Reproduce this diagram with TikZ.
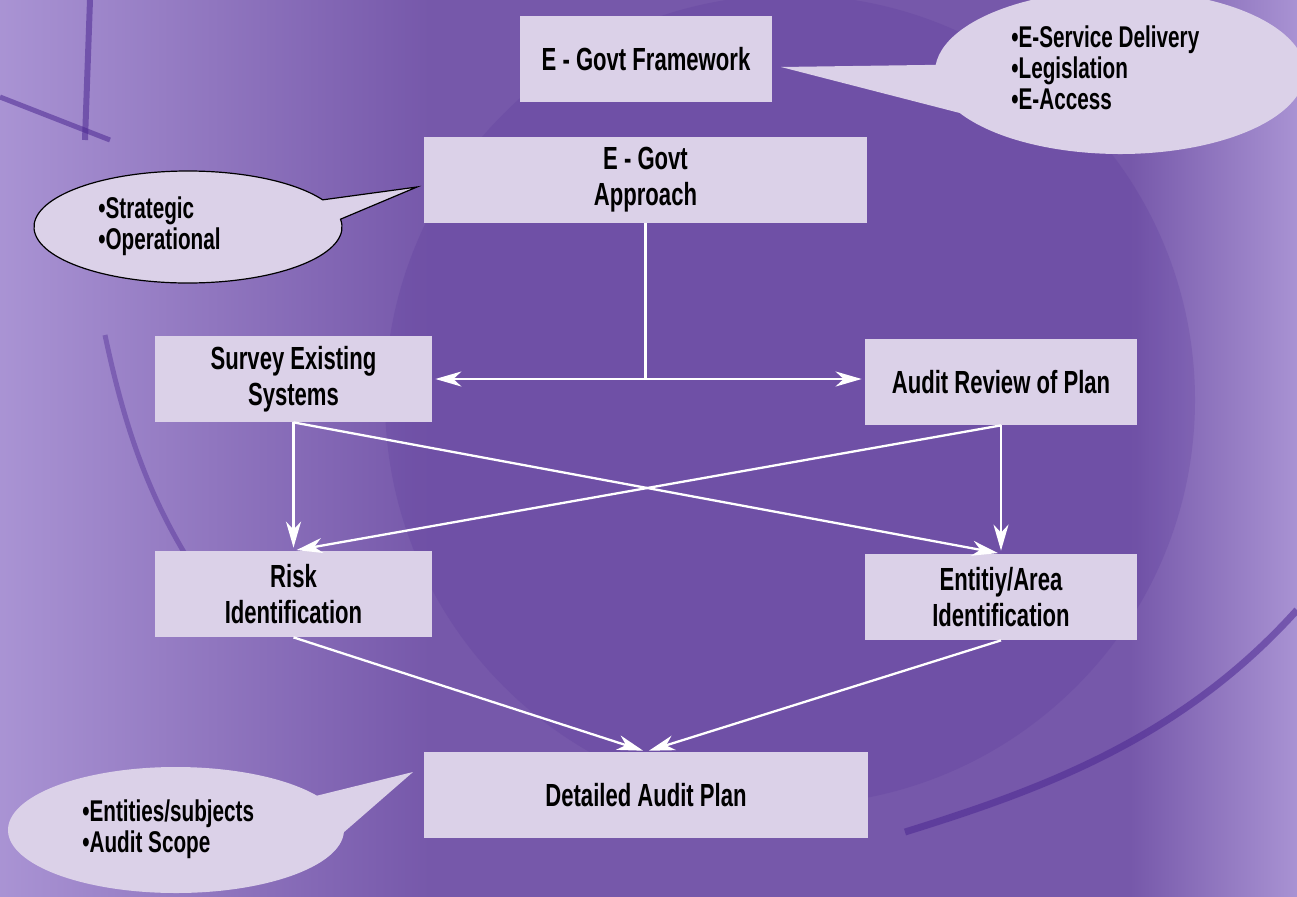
\documentclass[tikz,border=0pt]{standalone}
\usepackage{fontspec}
\setmainfont{Liberation Sans}[FakeStretch=0.69]
\usetikzlibrary{arrows.meta,calc}

\definecolor{bgpurple}{RGB}{118,88,170}
\definecolor{boxlilac}{RGB}{219,209,232}
\definecolor{darkstripe}{RGB}{76,40,146}
\definecolor{lightpurple}{RGB}{170,148,212}

\tikzset{every picture/.style={line width=0.75pt},
	stepbox/.style={fill=boxlilac, inner sep=0pt, minimum height=86pt, align=center, font=\fontsize{32}{36}\selectfont\bfseries},
	notetext/.style={anchor=west, inner sep=0pt, align=left, font=\fontsize{30}{31}\selectfont\bfseries},
	callout/.style={fill=boxlilac},
	flow/.style={draw=white, line width=2.3pt},
	flowarrow/.style={flow, shorten >=3pt, -{Stealth[length=26pt,width=15pt,inset=8pt]}}
}

\begin{document}
\begin{tikzpicture}[x=1pt,y=1pt,yscale=-1,xscale=1]
	\useasboundingbox (0,0) rectangle (1297,896);
	
	%Shape: Background [id:bg]
	\fill[bgpurple] (-5,-5) rectangle (1302,901);
	\shade[left color=lightpurple, right color=bgpurple] (-5,-5) rectangle (430,901);
	\shade[left color=bgpurple, right color=lightpurple] (1130,-5) rectangle (1302,901);
	\fill[darkstripe, opacity=0.16] (790,400) circle (405);
	%Straight Lines [id:stripes]
	\draw[darkstripe, opacity=0.55, line width=6pt] (90,0) -- (85,140);
	\draw[darkstripe, opacity=0.55, line width=5pt] (0,97) -- (110,140);
	\draw[darkstripe, opacity=0.4, line width=5pt] (105,335) .. controls (125,430) and (150,500) .. (195,570);
	\draw[darkstripe, opacity=0.55, line width=7pt] (905,832) .. controls (1040,790) and (1180,740) .. (1297,610);
	
	%Shape: Callout [id:framework note]
	\coordinate (fwc) at (1120,72);
	\fill[callout] (781,67) coordinate (fwtip) -- ($(fwc)+(150:185 and 82)$) arc[start angle=150, end angle=-175, x radius=185, y radius=82] -- cycle;
	%Shape: Callout [id:approach note]
	\coordinate (apc) at (188,227);
	\filldraw[callout, draw=black, line width=1.2pt] (417,187) coordinate (aptip) -- ($(apc)+(-8:154 and 56)$) arc[start angle=-8, end angle=331, x radius=154, y radius=56] -- cycle;
	%Shape: Callout [id:plan note]
	\coordinate (plc) at (176,830);
	\fill[callout] (413,772) coordinate (pltip) -- ($(plc)+(2:168 and 63)$) arc[start angle=2, end angle=327, x radius=168, y radius=63] -- cycle;
	
	% Text Node
	\node[notetext] (fwnote) at (1011,68) {•E-Service Delivery\\•Legislation\\•E-Access};
	% Text Node
	\node[notetext] (apnote) at (98,226) {•Strategic\\•Operational};
	% Text Node
	\node[notetext] (plnote) at (82,829) {•Entities/subjects\\•Audit Scope};
	
	%Shape: Rectangle [id:boxes]
	\node[stepbox, minimum width=252pt] (frame) at (646,59) {E - Govt Framework};
	\node[stepbox, minimum width=443pt] (approach) at (645.5,180) {E - Govt\\Approach};
	\node[stepbox, minimum width=277pt] (survey) at (293.5,379) {Survey Existing\\Systems};
	\node[stepbox, minimum width=272pt] (review) at (1001,382) {Audit Review of Plan};
	\node[stepbox, minimum width=277pt] (risk) at (293.5,594) {Risk\\Identification};
	\node[stepbox, minimum width=272pt] (entity) at (1001,597) {Entitiy/Area\\Identification};
	\node[stepbox, minimum width=444pt] (plan) at (646,795) {Detailed Audit Plan};
	
	%Straight Lines [id:links]
	\draw[flow] (approach.south) -- (approach.south |- survey.east) coordinate (split);
	\draw[flowarrow] (split) -- (survey.east);
	\draw[flowarrow] (split) -- (split -| review.west);
	\draw[flowarrow] (survey.south) -- (risk.north);
	\draw[flowarrow] (survey.south) -- (entity.north);
	\draw[flowarrow] (review.south) -- (entity.north);
	\draw[flowarrow] (review.south) -- (risk.north);
	\draw[flowarrow] (risk.south) -- (plan.north);
	\draw[flowarrow] (entity.south) -- (plan.north);
\end{tikzpicture}
\end{document}
